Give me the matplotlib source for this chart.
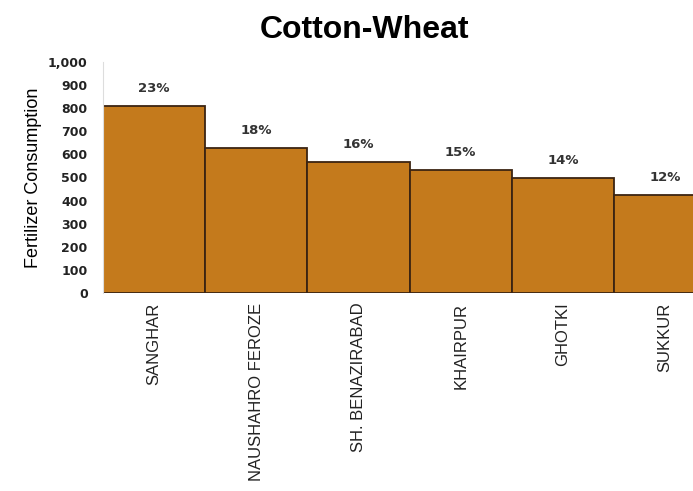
import matplotlib.pyplot as plt
from matplotlib.ticker import FuncFormatter

plt.rcParams['font.family'] = ['Liberation Sans', 'DejaVu Sans']

# Data
districts = ["SANGHAR", "NAUSHAHRO FEROZE", "SH. BENAZIRABAD", "KHAIRPUR", "GHOTKI", "SUKKUR"]
consumption = [810, 628, 567, 532, 498, 424]
shares = ["23%", "18%", "16%", "15%", "14%", "12%"]

fig = plt.figure(figsize=(6.93, 4.91), dpi=100)
# axes runs past the right edge, last bar is cut off like the original
ax = fig.add_axes([0.1486, 0.4033, 0.885, 0.4705])

x = list(range(len(districts)))
ax.bar(x, consumption, width=1.0, color="#C47A1C", edgecolor="#3B2412", linewidth=1.3)

#percent labels above each bar
for xi, v, s in zip(x, consumption, shares):
    ax.text(xi, v + 75, s, ha="center", va="center", fontsize=9.5,
            fontweight="bold", color="#333333", family="DejaVu Sans")

ax.set_xlim(-0.5, len(districts) - 0.5)
ax.set_ylim(0, 1000)
ax.set_yticks(range(0, 1001, 100))
ax.yaxis.set_major_formatter(FuncFormatter(lambda v, p: f"{int(v):,}"))
ax.set_xticks(x)
ax.set_xticklabels(districts, rotation=90, fontsize=12, color="#222222")

for lbl in ax.get_yticklabels():
    lbl.set_fontweight("bold")
    lbl.set_fontsize(9)
    lbl.set_family("DejaVu Sans")
    lbl.set_color("#222222")

ax.tick_params(axis="both", length=0)
ax.tick_params(axis="y", pad=11)
ax.tick_params(axis="x", pad=7)

for side in ["top", "right", "bottom"]:
    ax.spines[side].set_visible(False)
ax.spines["left"].set_color("#dddddd")

ax.set_ylabel("Fertilizer Consumption", fontsize=13)
ax.yaxis.set_label_coords(-0.1, 0.5)

fig.text(364 / 693, 1 - 30 / 491, "Cotton-Wheat", ha="center", va="center",
         fontsize=23, fontweight="bold")

fig.savefig("out.png", dpi=100)
